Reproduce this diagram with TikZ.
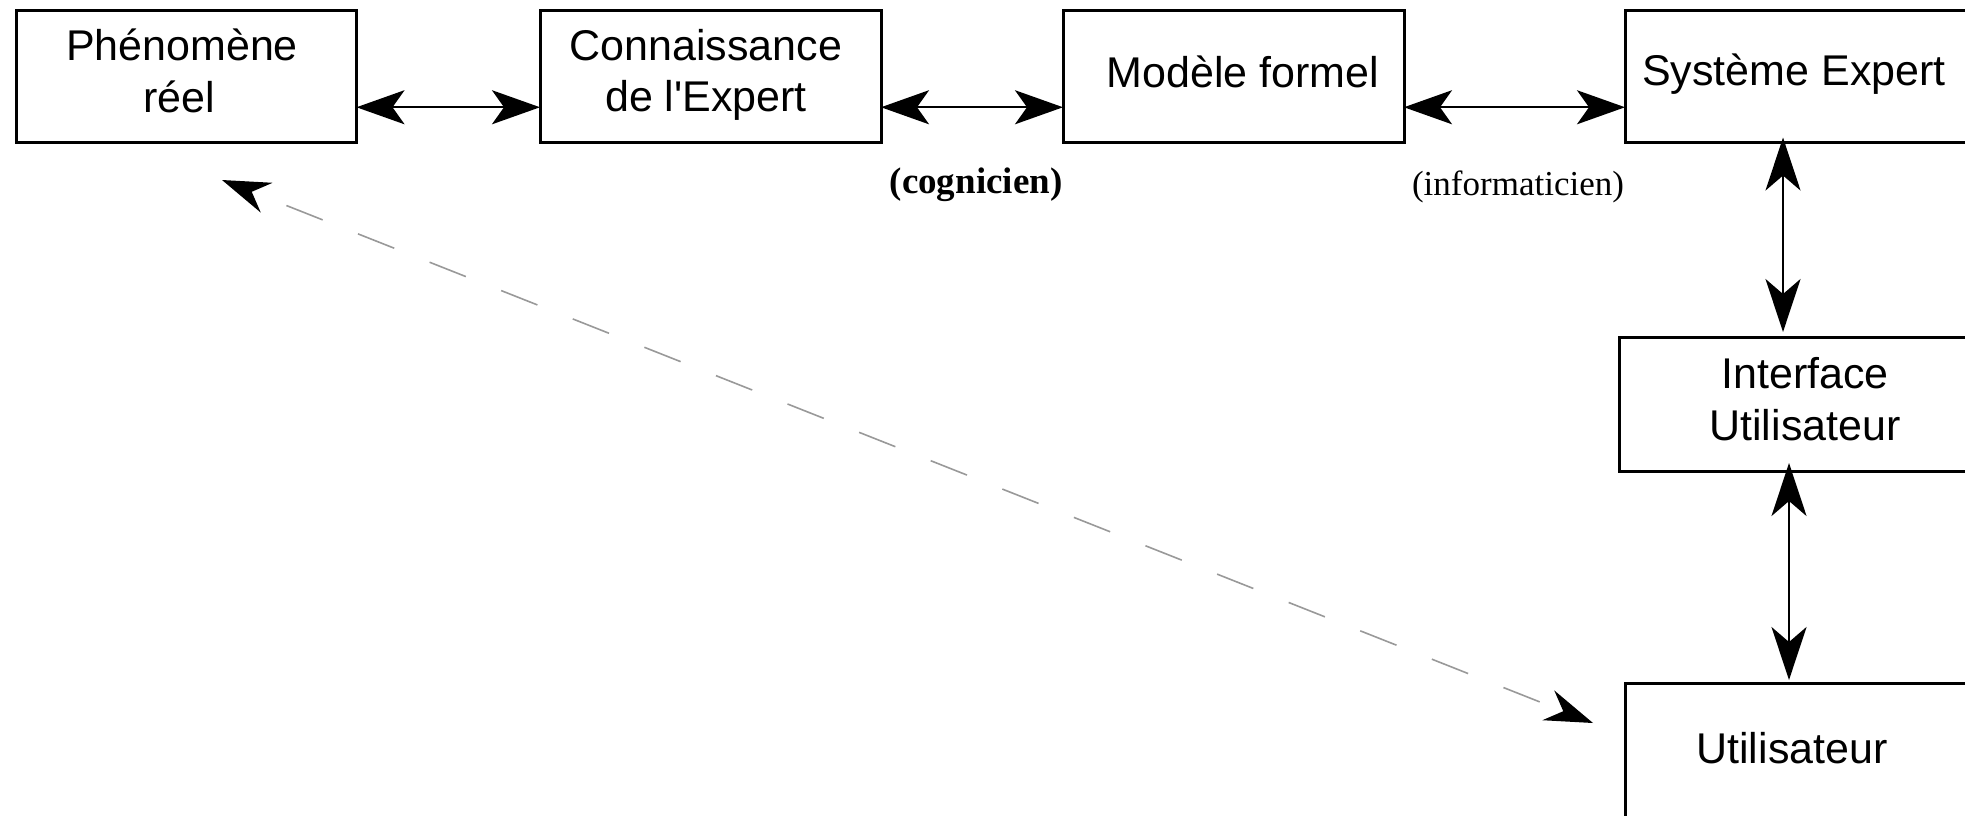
\documentclass[tikz,border=0pt]{standalone}
\usepackage{fontspec}
\setmainfont{Liberation Sans}
\newfontfamily\notefont{Liberation Serif}
\usetikzlibrary{arrows.meta}

\begin{document}
\begin{tikzpicture}[x=1pt,y=-1pt,
  box/.style={draw=black, line width=3pt, rectangle, inner sep=0pt, outer sep=0pt},
  txt/.style={font=\fontsize{43}{52}\selectfont, inner sep=0pt, anchor=base},
  note/.style={font=\notefont\fontsize{35}{42}\selectfont, inner sep=0pt, anchor=base},
  link/.style={line width=2.2pt, >={Stealth[length=48pt,width=34pt,inset=12pt]}, <->},
  vlink/.style={line width=2.6pt, >={Stealth[length=53pt,width=35pt,inset=15pt]}, <->},
  feedback/.style={draw=black!40, line width=1.6pt, dash pattern=on 39pt off 38pt, dash phase=39pt,
    >={Stealth[length=48pt,width=32pt,inset=16pt,color=black]}, <->}]

\useasboundingbox (0,0) rectangle (1965,815);
\clip (0,0) rectangle (1965,815);

% boxes
\node[box, minimum width=340pt, minimum height=132.5pt] (phen)  at (186.5,76.25) {};
\node[box, minimum width=341pt, minimum height=132.5pt] (conn)  at (710.5,76.25) {};
\node[box, minimum width=341pt, minimum height=132.5pt] (mod)   at (1233.5,76.25) {};
\node[box, minimum width=380pt, minimum height=132.5pt] (sys)   at (1815,76.25) {};
\node[box, minimum width=380pt, minimum height=134pt]   (iface) at (1809,404) {};
\node[box, minimum width=380pt, minimum height=140pt]   (user)  at (1815,753) {};

% box texts
\node[txt] (phen-a)  at (182,60)   {Phénomène};
\node[txt] (phen-b)  at (179,112)  {réel};
\node[txt] (conn-a)  at (706,60)   {Connaissance};
\node[txt] (conn-b)  at (706,111)  {de l{\textquotesingle}Expert};
\node[txt] (mod-t)   at (1243,87)  {Modèle formel};
\node[txt] (sys-t)   at (1794,85)  {Système Expert};
\node[txt] (iface-a) at (1805,388) {Interface};
\node[txt] (iface-b) at (1805,440) {Utilisateur};
\node[txt] (user-t)  at (1792,763) {Utilisateur};

% role notes
\node[note, font=\notefont\bfseries\fontsize{37}{44}\selectfont] (cog) at (976,193) {(cognicien)};
\node[note] (inf) at (1518,195) {(informaticien)};

% links
\draw[link] ([yshift=-31pt]phen.east) -- ([yshift=-31pt]conn.west);
\draw[link] ([yshift=-31pt]conn.east) -- ([yshift=-31pt]mod.west);
\draw[link] ([yshift=-31pt]mod.east)  -- ([yshift=-31pt]sys.west);
\draw[vlink] ([xshift=158pt,yshift=5pt]sys.south west) -- ([xshift=164pt,yshift=5pt]iface.north west);
\draw[vlink] ([xshift=170pt,yshift=8pt]iface.south west) -- ([xshift=164pt,yshift=3pt]user.north west);

% feedback between the real phenomenon and the user
\coordinate (fb-a) at ([shift={(35.5,37.5)}]phen.south);
\coordinate (fb-b) at ([shift={(-32,40)}]user.north west);
\draw[feedback] (fb-a) -- (fb-b);
\end{tikzpicture}
\end{document}
